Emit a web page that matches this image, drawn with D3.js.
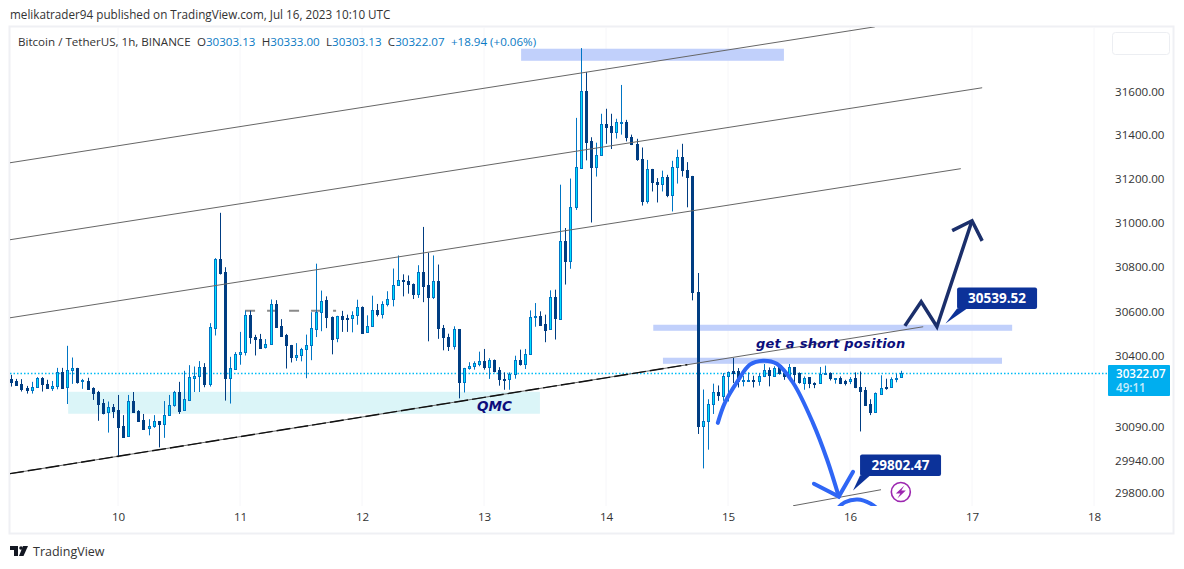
<!DOCTYPE html>
<html>
<head>
<meta charset="utf-8">
<script src="https://cdn.jsdelivr.net/npm/d3@7"></script>
<style>
  html, body { margin: 0; padding: 0; background: #fff; }
  svg { display: block; }
  text { font-family: "Open Sans", sans-serif; }
</style>
</head>
<body>
<div id="chart"></div>
<script>
// hourly candles, first one is 21 hours before the "10" tick
var firstHour = -21;
var opens = [
  30297,30288,30275,30257,30250,30260,30300,30275,30257,30263,30328,30259,30334,30346,30287,30288,30257,30239,30189,30148,30171,
  30159,30088,30042,30199,30156,30115,30077,30085,30109,30096,30136,30179,30238,30158,30204,30303,30309,30349,30274,30525,
  30835,30773,30299,30342,30406,30414,30580,30482,30475,30437,30451,30631,30533,30491,30447,30392,30402,30429,30446,30522,
  30594,30650,30573,30477,30578,30569,30566,30580,30617,30504,30531,30603,30584,30629,30653,30715,30739,30734,30721,30676,
  30776,30717,30662,30734,30523,30483,30442,30519,30282,30343,30353,30365,30377,30349,30381,30337,30298,30295,30319,30381,
  30362,30408,30572,30577,30541,30518,30662,30566,30915,30823,31067,31248,31601,31368,31248,31305,31450,31439,31413,31455,
  31457,31387,31355,31287,31096,31241,31182,31171,31204,31121,31250,31296,31237,31210,30684,30088,30109,30186,30239,30224,
  30310,30333,30332,30286,30290,30293,30290,30308,30338,30313,30348,30323,30308,30350,30323,30282,30304,30280,30277,30317,
  30322,30298,30301,30287,30287,30299,30262,30247,30186,30149,30231,30261,30261,30296,30303.13
];
var highs = [
  30315,30297,30296,30266,30284,30305,30305,30293,30288,30346,30346,30444,30392,30346,30297,30302,30260,30244,30208,30197,30186,
  30226,30137,30226,30239,30159,30142,30119,30137,30110,30199,30226,30244,30284,30333,30358,30352,30376,30367,30545,30837,
  31042,30796,30395,30416,30506,30601,30601,30493,30497,30474,30651,30648,30563,30497,30448,30456,30435,30494,30594,30812,
  30691,30665,30575,30578,30600,30583,30598,30650,30620,30580,30668,30631,30643,30688,30790,30849,30764,30759,30723,30805,
  30978,30861,30849,30808,30537,30498,30531,30519,30346,30371,30375,30418,30430,30389,30383,30349,30326,30326,30400,30427,
  30430,30602,30635,30598,30583,30692,30695,31170,30973,31198,31476,31799,31688,31387,31362,31495,31518,31495,31472,31628,
  31467,31399,31380,31340,31283,31242,31200,31234,31215,31279,31330,31357,31273,31210,30770,30250,30207,30276,30268,30323,
  30330,30390,30345,30311,30326,30311,30323,30363,30348,30353,30360,30338,30363,30350,30326,30308,30305,30282,30350,30356,
  30326,30301,30308,30293,30305,30326,30330,30261,30207,30237,30313,30298,30304,30320,30333
];
var lows = [
  30263,30271,30241,30232,30232,30257,30241,30256,30244,30251,30253,30186,30275,30276,30253,30253,30204,30112,30140,30060,30124,
  29952,30037,30041,30151,30108,30075,30048,30081,29995,30037,30134,30174,30142,30156,30199,30239,30239,30260,30263,30490,
  30763,30201,30188,30337,30360,30401,30453,30401,30434,30432,30450,30530,30490,30343,30370,30377,30375,30300,30380,30483,
  30509,30523,30406,30460,30506,30506,30504,30538,30498,30501,30531,30575,30566,30620,30620,30715,30665,30677,30653,30658,
  30639,30464,30653,30475,30424,30421,30427,30211,30237,30338,30338,30353,30338,30297,30326,30267,30249,30249,30298,30356,
  30341,30405,30529,30537,30460,30516,30472,30563,30718,30789,31055,31242,31281,30998,31207,31302,31357,31333,31381,31399,
  31368,31351,31279,31075,31084,31139,31089,31139,31113,31048,31175,31207,31067,30647,30054,29903,29985,30142,30200,30200,
  30197,30279,30259,30264,30290,30259,30267,30305,30264,30311,30316,30293,30299,30268,30276,30249,30256,30256,30277,30316,
  30290,30276,30274,30268,30274,30256,30065,30178,30137,30149,30227,30249,30259,30282,30303.13
];
var closes = [
  30284,30272,30253,30250,30262,30302,30272,30257,30266,30327,30257,30336,30345,30285,30290,30253,30237,30188,30146,30171,30155,
  30085,30039,30198,30152,30112,30075,30087,30109,30094,30136,30180,30238,30156,30207,30305,30311,30349,30272,30527,30835,
  30772,30299,30345,30407,30416,30580,30481,30471,30435,30451,30629,30530,30490,30445,30392,30402,30429,30448,30523,30596,
  30644,30573,30477,30577,30565,30566,30581,30617,30501,30532,30603,30583,30631,30653,30717,30739,30733,30720,30674,30774,
  30715,30661,30734,30522,30482,30442,30519,30282,30344,30354,30368,30377,30349,30381,30334,30295,30295,30319,30381,30362,
  30408,30572,30577,30538,30516,30662,30566,30915,30823,31068,31250,31601,31368,31248,31305,31448,31437,31413,31457,31458,
  31386,31354,31285,31096,31241,31180,31171,31204,31121,31250,31296,31235,31207,30684,30088,30111,30186,30239,30224,30311,
  30326,30325,30286,30292,30293,30290,30310,30336,30314,30347,30320,30308,30350,30317,30282,30302,30277,30277,30319,30322,
  30301,30301,30280,30280,30298,30259,30246,30182,30149,30234,30256,30255,30296,30302,30322.07
];

// axis ticks
var dayTicks = [10, 11, 12, 13, 14, 15, 16, 17, 18];
var priceTicks = [31600, 31400, 31200, 31000, 30800, 30600, 30400, 30090, 29940, 29800];
var lastPrice = 30322.07;

// drawings, as [hour, price]
var channelLines = [
  [[-21.25, 31270], [148.9, 31898]],
  [[-21.25, 30920], [170, 31615]],
  [[-21.25, 30569], [165.8, 31243]],
  [[-21.25, 29880], [158.4, 30529]],
  [[132.8, 29740], [150.1, 29810]]
];
var dashedOverlay = [[-21.25, 29880], [112, 30360]];
var grayDash = [[25, 30600], [42.9, 30600]];
var blueBands = [
  [79.3, 131, 31796, 31740],
  [105.3, 175.9, 30538, 30511],
  [107.2, 173.9, 30391, 30364]
];
var qmcBand = [-9.8, 83, 30240, 30143];
var domeCurve = [[118, 30103], [119.4, 30192], [121.8, 30284], [124.3, 30360], [126.9, 30378], [129.6, 30364],
  [132.8, 30280], [136.7, 30103], [139.5, 29941], [141.8, 29780]];
var domeHead = [[136.9, 29836], [141.8, 29780], [144.6, 29888]];
var lowerDome = [[141, 29715], [143, 29755], [145.5, 29767], [148, 29750], [150, 29715]];
var navyPath = [[154.8, 30533], [158, 30641], [161.1, 30529], [168, 31006]];
var navyHead = [[164.1, 30961], [168, 31006], [170, 30915]];
var priceNotes = [
  { label: '30539.52', hour: 162.8, price: 30539.52, dx: 11.5, w: 80 },
  { label: '29802.47', hour: 144.6, price: 29802.47, dx: 7, w: 81 }
];

var W = 1184, H = 569;
var left = 10, right = 1108, top_ = 27, bottom = 506;

var svg = d3.select('#chart').append('svg').attr('width', W).attr('height', H);

var x = d3.scaleLinear().domain([0, 192]).range([118, 1094]);
var y = d3.scaleLog().domain([29800, 31600]).range([492, 91]);

// frame
svg.append('rect').attr('x', 9.5).attr('y', 26.5).attr('width', 1164).attr('height', 507)
  .attr('fill', '#fff').attr('stroke', '#eff0f4').attr('stroke-width', 2);

svg.append('text').attr('x', 10).attr('y', 19).attr('font-size', 11.7).attr('fill', '#333')
  .text('melikatrader94 published on TradingView.com, Jul 16, 2023 10:10 UTC');

svg.append('defs').append('clipPath').attr('id', 'pane').append('rect')
  .attr('x', left).attr('y', top_).attr('width', right - left).attr('height', bottom - top_);

// day grid
svg.append('g').selectAll('line').data(dayTicks).join('line')
  .attr('x1', function(d) { return x((d - 10) * 24); })
  .attr('x2', function(d) { return x((d - 10) * 24); })
  .attr('y1', top_).attr('y2', bottom)
  .attr('stroke', '#f6f6f9');

var pane = svg.append('g').attr('clip-path', 'url(#pane)');

// bands under the candles
pane.append('g').selectAll('rect').data(blueBands).join('rect')
  .attr('x', function(d) { return x(d[0]); })
  .attr('width', function(d) { return x(d[1]) - x(d[0]); })
  .attr('y', function(d) { return y(d[2]); })
  .attr('height', function(d) { return y(d[3]) - y(d[2]); })
  .attr('fill', '#c1d0fb');
pane.append('rect')
  .attr('x', x(qmcBand[0])).attr('width', x(qmcBand[1]) - x(qmcBand[0]))
  .attr('y', y(qmcBand[2])).attr('height', y(qmcBand[3]) - y(qmcBand[2]))
  .attr('fill', '#dbf5f8');

// gray dashes behind the candles
pane.append('line')
  .attr('x1', x(grayDash[0][0])).attr('x2', x(grayDash[1][0]))
  .attr('y1', y(grayDash[0][1])).attr('y2', y(grayDash[1][1]))
  .attr('stroke', '#8a8a8a').attr('stroke-width', 2).attr('stroke-dasharray', '10 12');

// last price line
pane.append('line').attr('x1', left).attr('x2', right)
  .attr('y1', Math.round(y(lastPrice)) + 0.5).attr('y2', Math.round(y(lastPrice)) + 0.5)
  .attr('stroke', '#00bcf5').attr('stroke-width', 1.5).attr('stroke-dasharray', '1.5 2');

// candles, 3px wide with a 1px wick
var candles = pane.append('g').selectAll('g').data(opens).join('g');
function isUp(i) { return closes[i] >= opens[i]; }
function cx(i) { return Math.round(x(firstHour + i)); }
candles.append('line')
  .attr('x1', function(d, i) { return cx(i) + 0.5; })
  .attr('x2', function(d, i) { return cx(i) + 0.5; })
  .attr('y1', function(d, i) { return y(highs[i]); })
  .attr('y2', function(d, i) { return y(lows[i]); })
  .attr('stroke', function(d, i) { return isUp(i) ? '#0075c4' : '#003d82'; });
candles.append('rect')
  .attr('x', function(d, i) { return cx(i) - 0.5; })
  .attr('width', 2)
  .attr('y', function(d, i) { return Math.round(y(Math.max(opens[i], closes[i]))) + 0.5; })
  .attr('height', function(d, i) { return Math.max(1, Math.round(y(Math.min(opens[i], closes[i])) - y(Math.max(opens[i], closes[i])))); })
  .attr('fill', function(d, i) { return isUp(i) ? '#00e0ff' : '#003d82'; })
  .attr('stroke', function(d, i) { return isUp(i) ? '#0075c4' : '#003d82'; });

// channel
var straight = d3.line().x(function(d) { return x(d[0]); }).y(function(d) { return y(d[1]); });
pane.append('g').selectAll('path').data(channelLines).join('path')
  .attr('d', straight).attr('fill', 'none').attr('stroke', '#666').attr('stroke-width', 1);
pane.append('path').attr('d', straight(dashedOverlay)).attr('fill', 'none')
  .attr('stroke', '#111').attr('stroke-width', 1.4).attr('stroke-dasharray', '14 4');

// hand drawn arrows
var curved = d3.line().x(function(d) { return x(d[0]); }).y(function(d) { return y(d[1]); }).curve(d3.curveCatmullRom);
pane.append('path').attr('d', curved(domeCurve)).attr('fill', 'none').attr('stroke', '#2f66f5').attr('stroke-width', 4).attr('stroke-linecap', 'round');
pane.append('path').attr('d', straight(domeHead)).attr('fill', 'none').attr('stroke', '#2f66f5').attr('stroke-width', 4).attr('stroke-linecap', 'round');
pane.append('path').attr('d', curved(lowerDome)).attr('fill', 'none').attr('stroke', '#2f66f5').attr('stroke-width', 4);
pane.append('path').attr('d', straight(navyPath)).attr('fill', 'none').attr('stroke', '#1b2f6b').attr('stroke-width', 3.5).attr('stroke-linejoin', 'miter');
pane.append('path').attr('d', straight(navyHead)).attr('fill', 'none').attr('stroke', '#1b2f6b').attr('stroke-width', 3.5);

// handwritten notes
pane.append('text').attr('x', 756).attr('y', 348)
  .attr('font-style', 'italic').attr('font-weight', 'bold')
  .attr('font-size', 13).attr('letter-spacing', 0.25).attr('fill', '#0c0f7c').style('font-family', '"DejaVu Sans"')
  .text('get a short position');
pane.append('text').attr('x', 477).attr('y', 411)
  .attr('font-style', 'italic').attr('font-weight', 'bold')
  .attr('font-size', 13.5).attr('fill', '#0c0f7c').style('font-family', '"DejaVu Sans"')
  .text('QMC');

// price notes
priceNotes.forEach(function(n) {
  var ax = x(n.hour), ay = y(n.price);
  var g = svg.append('g');
  g.append('path').attr('d', d3.line()([[ax + n.dx, ay - 16], [ax + n.dx + 10, ay - 16], [ax, ay - 1]])).attr('fill', '#0c3299');
  g.append('rect').attr('x', ax + n.dx).attr('y', ay - 37).attr('width', n.w).attr('height', 21.5).attr('rx', 2).attr('fill', '#0c3299');
  g.append('text').attr('x', ax + n.dx + n.w / 2).attr('y', ay - 21.5).attr('text-anchor', 'middle')
    .attr('fill', '#fff').attr('font-weight', 'bold').attr('font-size', 13.5).text(n.label);
});

// lightning badge
var badge = svg.append('g').attr('transform', 'translate(' + x(154) + ',' + y(29800) + ')');
badge.append('circle').attr('r', 9.5).attr('fill', '#fff').attr('stroke', '#9c27b0').attr('stroke-width', 1.6);
badge.append('path').attr('d', 'M3.5,-6.5 L-5,1.5 L-0.5,1.5 L-3.5,6.5 L5,-1.5 L0.5,-1.5 Z').attr('fill', '#9c27b0');

// axes
var priceAxis = d3.axisRight(y).tickValues(priceTicks).tickSize(0).tickPadding(0)
  .tickFormat(function(d) { return d3.format('.2f')(d); });
svg.append('g').attr('transform', 'translate(1115,0.5)').call(priceAxis)
  .call(function(g) { g.select('.domain').remove(); })
  .selectAll('text').attr('font-size', 11.6).attr('fill', '#333').style('font-family', '"Open Sans"');

var timeAxis = d3.axisBottom(x).tickValues(dayTicks.map(function(d) { return (d - 10) * 24; }))
  .tickSize(0).tickPadding(6).tickFormat(function(d) { return 10 + d / 24; });
svg.append('g').attr('transform', 'translate(0,507)').call(timeAxis)
  .call(function(g) { g.select('.domain').remove(); })
  .selectAll('text').attr('font-size', 11.6).attr('fill', '#333').style('font-family', '"Open Sans"');

// last price tag
var tagY = Math.round(y(lastPrice));
svg.append('rect').attr('x', 1108).attr('y', tagY - 8).attr('width', 62).attr('height', 31).attr('rx', 1).attr('fill', '#00aeef');
svg.append('text').attr('x', 1116).attr('y', tagY + 5).attr('font-size', 11.6).attr('font-weight', 600).attr('fill', '#fff').text(d3.format('.2f')(lastPrice));
svg.append('text').attr('x', 1116).attr('y', tagY + 19).attr('font-size', 11.6).attr('font-weight', 600).attr('fill', '#c5ecfb').text('49:11');

// legend line
var legend = svg.append('text').attr('x', 18).attr('y', 46).attr('font-size', 11.6).attr('fill', '#333');
legend.append('tspan').text('Bitcoin / TetherUS, 1h, BINANCE');
[['O', '30303.13'], ['H', '30333.00'], ['L', '30303.13'], ['C', '30322.07']].forEach(function(p) {
  legend.append('tspan').attr('dx', 6.3).text(p[0]);
  legend.append('tspan').attr('fill', '#0a7ac4').text(p[1]);
});
legend.append('tspan').attr('dx', 6.3).attr('fill', '#0a7ac4').text('+18.94 (+0.06%)');

// empty box top right
svg.append('rect').attr('x', 1112.5).attr('y', 32.5).attr('width', 57).attr('height', 22).attr('rx', 3)
  .attr('fill', '#fff').attr('stroke', '#eceef2');

// footer
var foot = svg.append('g').attr('fill', '#131722');
foot.append('path').attr('d', 'M10,546 H18 V556 H14 V550 H10 Z');
foot.append('circle').attr('cx', 21).attr('cy', 548).attr('r', 1.8);
foot.append('path').attr('d', 'M23,546 H28 L23.5,556 H19 Z');
svg.append('text').attr('x', 33).attr('y', 556).attr('font-size', 12.5).attr('fill', '#333').text('TradingView');
</script>
</body>
</html>
